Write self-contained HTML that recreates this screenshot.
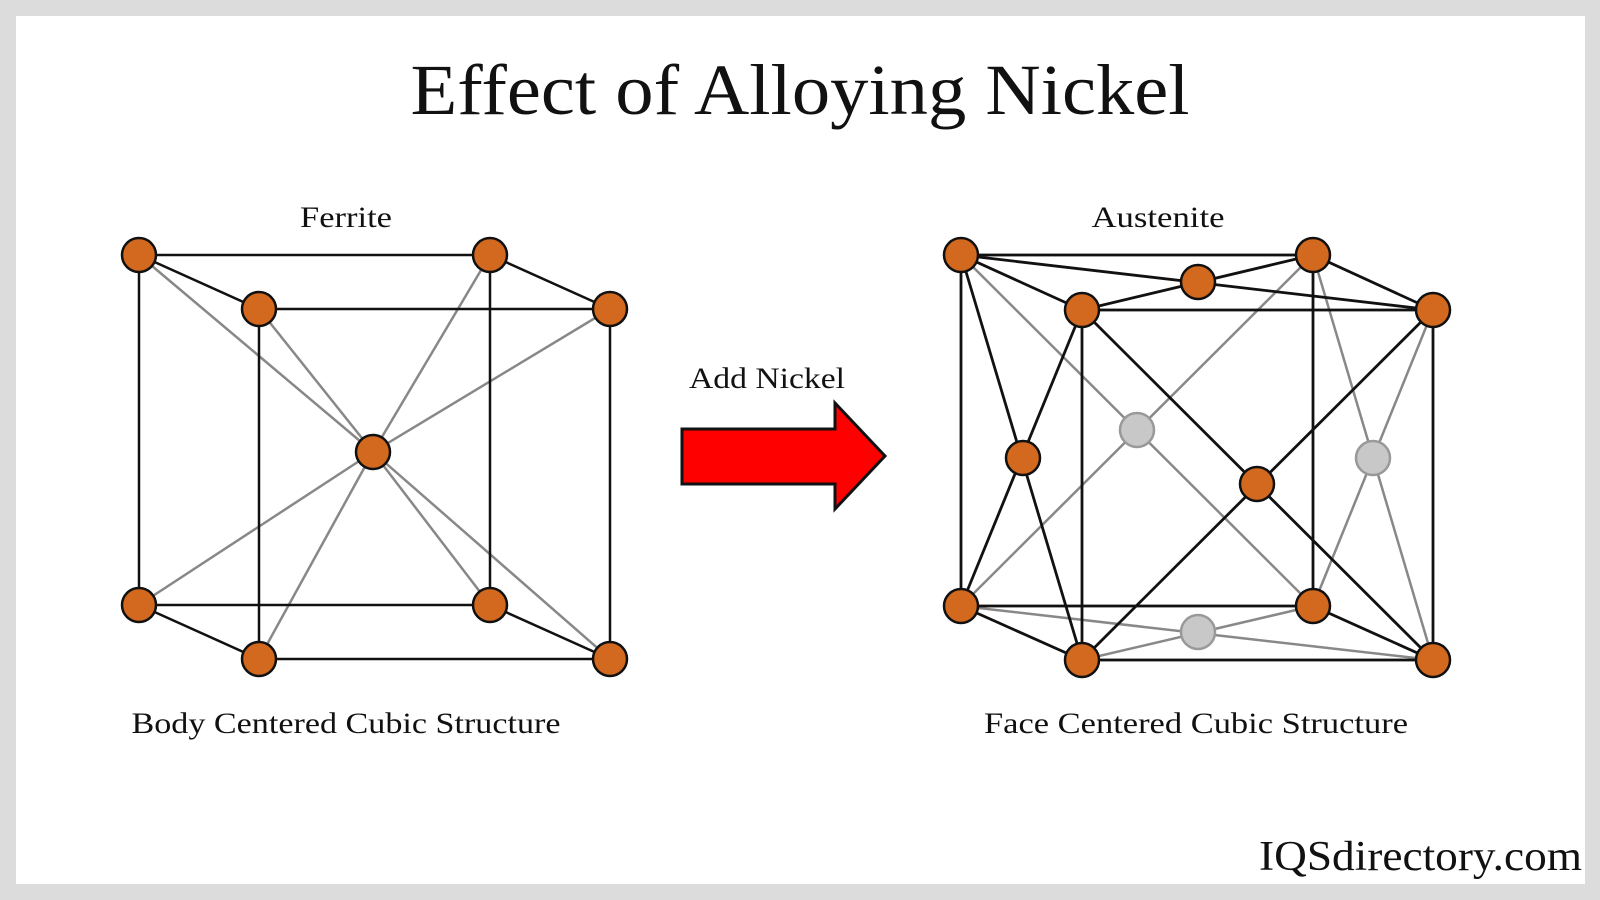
<!DOCTYPE html>
<html><head><meta charset="utf-8"><style>html,body{margin:0;padding:0;background:#dcdcdc}svg{display:block}</style></head>
<body>
<svg width="1600" height="900" viewBox="0 0 1600 900" xmlns="http://www.w3.org/2000/svg">
<rect x="0" y="0" width="1600" height="900" fill="#dcdcdc"/>
<rect x="16" y="16" width="1569" height="868" fill="#fff"/>
<g font-family="Liberation Serif, serif" fill="#111">
<text x="800" y="114" font-size="72" text-anchor="middle" textLength="779" lengthAdjust="spacingAndGlyphs">Effect of Alloying Nickel</text>
<text x="346" y="227" font-size="30" text-anchor="middle" textLength="92" lengthAdjust="spacingAndGlyphs">Ferrite</text>
<text x="1158" y="227" font-size="30" text-anchor="middle" textLength="133" lengthAdjust="spacingAndGlyphs">Austenite</text>
<text x="767" y="388" font-size="30" text-anchor="middle" textLength="156" lengthAdjust="spacingAndGlyphs">Add Nickel</text>
<text x="346" y="733" font-size="30" text-anchor="middle" textLength="429" lengthAdjust="spacingAndGlyphs">Body Centered Cubic Structure</text>
<text x="1196" y="733" font-size="30" text-anchor="middle" textLength="424" lengthAdjust="spacingAndGlyphs">Face Centered Cubic Structure</text>
<text x="1582" y="870" font-size="42" text-anchor="end" textLength="323" lengthAdjust="spacingAndGlyphs">IQSdirectory.com</text>
</g>
<polygon points="682,429 835,429 835,403 885,456 835,509 835,484 682,484" fill="#ff0000" stroke="#111" stroke-width="3"/>
<!-- Left BCC -->
<g stroke="#888" stroke-width="2.5">
<line x1="139" y1="255" x2="373" y2="452"/><line x1="490" y1="255" x2="373" y2="452"/>
<line x1="259" y1="309" x2="373" y2="452"/><line x1="610" y1="309" x2="373" y2="452"/>
<line x1="139" y1="605" x2="373" y2="452"/><line x1="490" y1="605" x2="373" y2="452"/>
<line x1="259" y1="659" x2="373" y2="452"/><line x1="610" y1="659" x2="373" y2="452"/>
</g>
<g stroke="#111" stroke-width="2.5" fill="none">
<rect x="139" y="255" width="351" height="350"/>
<rect x="259" y="309" width="351" height="350"/>
<line x1="139" y1="255" x2="259" y2="309"/><line x1="490" y1="255" x2="610" y2="309"/>
<line x1="139" y1="605" x2="259" y2="659"/><line x1="490" y1="605" x2="610" y2="659"/>
</g>
<g fill="#d2691e" stroke="#111" stroke-width="2.5">
<circle cx="139" cy="255" r="17"/><circle cx="490" cy="255" r="17"/>
<circle cx="259" cy="309" r="17"/><circle cx="610" cy="309" r="17"/>
<circle cx="139" cy="605" r="17"/><circle cx="490" cy="605" r="17"/>
<circle cx="259" cy="659" r="17"/><circle cx="610" cy="659" r="17"/>
<circle cx="373" cy="452" r="17"/>
</g>
<!-- Right FCC -->
<g stroke="#888" stroke-width="2.5">
<line x1="961" y1="255" x2="1313" y2="606"/><line x1="1313" y1="255" x2="961" y2="606"/>
<line x1="1313" y1="255" x2="1433" y2="660"/><line x1="1433" y1="310" x2="1313" y2="606"/>
<line x1="961" y1="606" x2="1433" y2="660"/><line x1="1313" y1="606" x2="1082" y2="660"/>
</g>
<g stroke="#111" stroke-width="2.8" fill="none">
<rect x="961" y="255" width="352" height="351"/>
<rect x="1082" y="310" width="351" height="350"/>
<line x1="961" y1="255" x2="1082" y2="310"/><line x1="1313" y1="255" x2="1433" y2="310"/>
<line x1="961" y1="606" x2="1082" y2="660"/><line x1="1313" y1="606" x2="1433" y2="660"/>
<line x1="961" y1="255" x2="1433" y2="310"/><line x1="1313" y1="255" x2="1082" y2="310"/>
<line x1="961" y1="255" x2="1082" y2="660"/><line x1="1082" y1="310" x2="961" y2="606"/>
<line x1="1082" y1="310" x2="1433" y2="660"/><line x1="1433" y1="310" x2="1082" y2="660"/>
</g>
<g fill="#c8c8c8" stroke="#999" stroke-width="2.5">
<circle cx="1137" cy="430" r="17"/><circle cx="1373" cy="458" r="17"/><circle cx="1198" cy="632" r="17"/>
</g>
<g fill="#d2691e" stroke="#111" stroke-width="2.5">
<circle cx="961" cy="255" r="17"/><circle cx="1313" cy="255" r="17"/>
<circle cx="1082" cy="310" r="17"/><circle cx="1433" cy="310" r="17"/>
<circle cx="961" cy="606" r="17"/><circle cx="1313" cy="606" r="17"/>
<circle cx="1082" cy="660" r="17"/><circle cx="1433" cy="660" r="17"/>
<circle cx="1198" cy="282" r="17"/><circle cx="1023" cy="458" r="17"/><circle cx="1257" cy="484" r="17"/>
</g>
</svg>
</body></html>
